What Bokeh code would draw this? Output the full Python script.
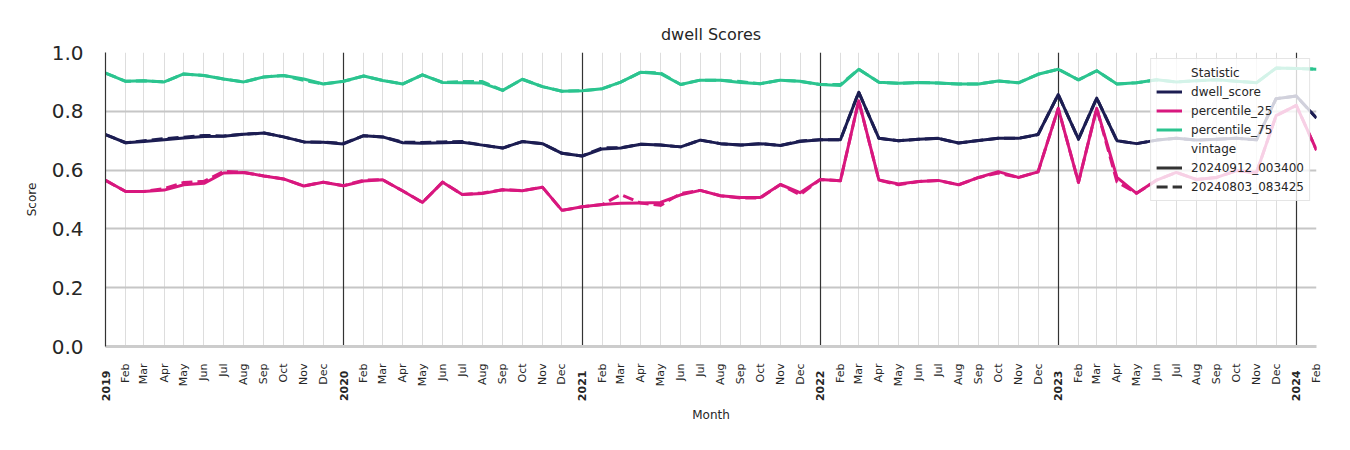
from math import pi
import pandas as pd
from bokeh.plotting import figure
from bokeh.models import (FixedTicker, Range1d, Legend, LegendItem, Grid, LinearAxis,
                          NumeralTickFormatter, ColumnDataSource)
from bokeh.embed import file_html
from bokeh.resources import INLINE

# ---------------- data ----------------
months = pd.date_range("2019-01-01", "2024-02-01", freq="MS")

dwell_new = [
    0.721, 0.693, 0.697, 0.703, 0.709, 0.714, 0.715, 0.722, 0.726, 0.713, 0.696, 0.695,
    0.689, 0.717, 0.713, 0.693, 0.691, 0.693, 0.695, 0.685, 0.675, 0.697, 0.690, 0.657,
    0.648, 0.672, 0.675, 0.688, 0.685, 0.679, 0.702, 0.690, 0.685, 0.690, 0.684, 0.697,
    0.703, 0.703, 0.865, 0.708, 0.700, 0.705, 0.708, 0.692, 0.701, 0.708, 0.708, 0.721,
    0.857, 0.705, 0.845, 0.700, 0.690, 0.702, 0.708, 0.702, 0.705, 0.708, 0.703, 0.843,
    0.852, 0.777,
]
dwell_old = [
    0.721, 0.693, 0.700, 0.707, 0.712, 0.718, 0.716, 0.722, 0.726, 0.713, 0.696, 0.695,
    0.691, 0.717, 0.713, 0.695, 0.694, 0.696, 0.697, 0.685, 0.675, 0.697, 0.690, 0.657,
    0.648, 0.676, 0.676, 0.688, 0.685, 0.679, 0.702, 0.690, 0.685, 0.690, 0.684, 0.699,
    0.703, 0.703, 0.865, 0.708, 0.700, 0.705, 0.708, 0.692, 0.701, 0.708, 0.708, 0.721,
    0.857, 0.705, 0.845, 0.700, 0.690, 0.702, 0.708, 0.702, 0.705, 0.708, 0.703, 0.843,
    0.852, 0.777,
]
p25_new = [
    0.565, 0.527, 0.527, 0.532, 0.550, 0.555, 0.590, 0.592, 0.580, 0.570, 0.546, 0.559,
    0.547, 0.563, 0.567, 0.529, 0.490, 0.559, 0.517, 0.520, 0.533, 0.530, 0.542, 0.463,
    0.475, 0.483, 0.487, 0.488, 0.490, 0.516, 0.531, 0.513, 0.507, 0.507, 0.551, 0.523,
    0.568, 0.564, 0.836, 0.566, 0.553, 0.561, 0.565, 0.550, 0.575, 0.595, 0.575, 0.594,
    0.810, 0.558, 0.810, 0.575, 0.521, 0.566, 0.592, 0.568, 0.575, 0.598, 0.592, 0.785,
    0.820, 0.668,
]
p25_old = [
    0.565, 0.527, 0.527, 0.537, 0.558, 0.562, 0.596, 0.592, 0.580, 0.570, 0.546, 0.559,
    0.547, 0.566, 0.567, 0.529, 0.490, 0.559, 0.517, 0.522, 0.533, 0.530, 0.542, 0.463,
    0.475, 0.483, 0.517, 0.488, 0.480, 0.520, 0.531, 0.513, 0.505, 0.505, 0.551, 0.516,
    0.568, 0.564, 0.836, 0.566, 0.550, 0.561, 0.565, 0.550, 0.575, 0.590, 0.575, 0.594,
    0.810, 0.558, 0.810, 0.560, 0.521, 0.566, 0.592, 0.568, 0.575, 0.598, 0.592, 0.785,
    0.820, 0.668,
]
p75_new = [
    0.930, 0.902, 0.904, 0.900, 0.927, 0.922, 0.910, 0.900, 0.917, 0.922, 0.910, 0.893,
    0.902, 0.920, 0.905, 0.893, 0.924, 0.898, 0.897, 0.896, 0.871, 0.909, 0.884, 0.868,
    0.870, 0.877, 0.899, 0.933, 0.928, 0.891, 0.906, 0.906, 0.898, 0.894, 0.906, 0.902,
    0.891, 0.888, 0.943, 0.899, 0.895, 0.898, 0.896, 0.893, 0.893, 0.903, 0.897, 0.926,
    0.943, 0.907, 0.938, 0.893, 0.897, 0.907, 0.900, 0.904, 0.907, 0.902, 0.897, 0.947,
    0.946, 0.943,
]
p75_old = [
    0.930, 0.902, 0.904, 0.900, 0.927, 0.922, 0.910, 0.900, 0.917, 0.922, 0.905, 0.893,
    0.902, 0.920, 0.905, 0.893, 0.924, 0.898, 0.901, 0.901, 0.871, 0.909, 0.884, 0.868,
    0.870, 0.877, 0.899, 0.933, 0.931, 0.891, 0.906, 0.906, 0.901, 0.894, 0.906, 0.902,
    0.891, 0.891, 0.943, 0.899, 0.895, 0.898, 0.896, 0.893, 0.893, 0.903, 0.897, 0.926,
    0.943, 0.907, 0.938, 0.893, 0.897, 0.907, 0.900, 0.904, 0.907, 0.902, 0.897, 0.947,
    0.946, 0.943,
]

stat_names = ["dwell_score", "percentile_25", "percentile_75"]
vintages = ["20240912_003400", "20240803_083425"]
y_ticks = [0.0, 0.2, 0.4, 0.6, 0.8, 1.0]

# ---------------- style ----------------
FONT = "DejaVu Sans"
TXT = "#262626"
colors = {"dwell_score": "#1c1d52", "percentile_25": "#d8177e", "percentile_75": "#2bc48f"}
dashes = {vintages[0]: "solid", vintages[1]: "11 5"}

origin = months[0]
xd = [(m - origin).days for m in months]
month_ticks = xd
year_ticks = [d for d, m in zip(xd, months) if m.month == 1]
year_text = [str(m.year) for m in months if m.month == 1]

p = figure(frame_width=1211, frame_height=294, width=1346, height=438,
           min_border_left=105, min_border_right=30, min_border_top=52, min_border_bottom=92,
           output_backend="svg", toolbar_location=None, tools="",
           x_range=Range1d(xd[0], xd[-1]), y_range=Range1d(0, 1.0))
p.background_fill_color = "white"
p.border_fill_color = "white"
p.outline_line_color = None

p.title.text = "dwell Scores"
p.title.align = "center"
p.title.text_font = FONT
p.title.text_font_size = "16px"
p.title.text_font_style = "normal"
p.title.text_color = TXT
p.title.standoff = 17

# x axis: months (normal weight)
xa = p.xaxis[0]
xa.ticker = FixedTicker(ticks=month_ticks)
xa.major_label_overrides = {d: ("" if m.month == 1 else m.strftime("%b")) for d, m in zip(xd, months)}
xa.major_label_orientation = pi / 2
xa.major_label_text_font = FONT
xa.major_label_text_font_size = "11px"
xa.major_label_text_color = TXT
xa.major_label_standoff = 17
xa.major_tick_out = 0
xa.major_tick_in = 0
xa.minor_tick_out = 0
xa.minor_tick_in = 0
xa.axis_line_color = "#cccccc"
xa.axis_line_width = 3

# second x axis: years (bold), pulled up under the month axis
ya2 = LinearAxis(ticker=FixedTicker(ticks=year_ticks),
                 major_label_overrides={d: t for d, t in zip(year_ticks, year_text)},
                 major_label_orientation=pi / 2,
                 major_label_text_font=FONT, major_label_text_font_size="11px",
                 major_label_text_font_style="bold", major_label_text_color=TXT,
                 major_label_standoff=-19,
                 major_tick_out=0, major_tick_in=0, minor_tick_out=0, minor_tick_in=0,
                 axis_line_color=None,
                 axis_label="Month", axis_label_text_font=FONT,
                 axis_label_text_font_size="12px", axis_label_text_font_style="normal",
                 axis_label_text_color=TXT, axis_label_standoff=4)
p.add_layout(ya2, "below")

# y axis
ya = p.yaxis[0]
ya.ticker = FixedTicker(ticks=y_ticks)
ya.formatter = NumeralTickFormatter(format="0.0")
ya.major_label_text_font = FONT
ya.major_label_text_font_size = "20px"
ya.major_label_text_color = TXT
ya.major_label_standoff = 22
ya.major_tick_out = 0
ya.major_tick_in = 0
ya.minor_tick_out = 0
ya.minor_tick_in = 0
ya.axis_line_color = "#333333"
ya.axis_line_width = 1.2
ya.axis_label = "Score"
ya.axis_label_text_font = FONT
ya.axis_label_text_font_size = "12px"
ya.axis_label_text_font_style = "normal"
ya.axis_label_text_color = TXT
ya.axis_label_standoff = 10

# grids
p.xgrid.ticker = FixedTicker(ticks=month_ticks)
p.xgrid.grid_line_color = "#dddddd"
p.xgrid.grid_line_width = 1
p.ygrid.ticker = FixedTicker(ticks=y_ticks)
p.ygrid.grid_line_color = "#c6c6c6"
p.ygrid.grid_line_width = 2
p.add_layout(Grid(dimension=0, ticker=FixedTicker(ticks=year_ticks),
                  grid_line_color="#333333", grid_line_width=1.2))

# lines
series = {
    ("dwell_score", vintages[0]): dwell_new,
    ("dwell_score", vintages[1]): dwell_old,
    ("percentile_25", vintages[0]): p25_new,
    ("percentile_25", vintages[1]): p25_old,
    ("percentile_75", vintages[0]): p75_new,
    ("percentile_75", vintages[1]): p75_old,
}
stat_renderers = {}
for (stat, vint), vals in series.items():
    src = ColumnDataSource(dict(x=xd, y=vals))
    r = p.line("x", "y", source=src, line_color=colors[stat], line_width=3,
               line_dash=dashes[vint], line_join="round")
    if vint == vintages[0]:
        stat_renderers[stat] = r

# legend-only renderers (placed outside the visible y range)
def dummy():
    return ColumnDataSource(dict(x=[xd[0], xd[1]], y=[-5, -5]))

hdr1 = p.line("x", "y", source=dummy(), line_alpha=0)
hdr2 = p.line("x", "y", source=dummy(), line_alpha=0)
v_solid = p.line("x", "y", source=dummy(), line_color="#333333", line_width=3)
v_dash = p.line("x", "y", source=dummy(), line_color="#333333", line_width=3, line_dash="11 5")

items = [LegendItem(label="Statistic", renderers=[hdr1])]
items += [LegendItem(label=s, renderers=[stat_renderers[s]]) for s in stat_names]
items += [LegendItem(label="vintage", renderers=[hdr2]),
          LegendItem(label=vintages[0], renderers=[v_solid]),
          LegendItem(label=vintages[1], renderers=[v_dash])]
legend = Legend(items=items, location="top_right", margin=6, padding=5, spacing=2,
                label_height=17, glyph_height=17, glyph_width=26, label_standoff=9,
                label_text_font=FONT, label_text_font_size="12px", label_text_color=TXT,
                border_line_color="#cccccc", border_line_width=1.5,
                background_fill_color="white", background_fill_alpha=0.8)
p.add_layout(legend)

open("out.html", "w").write(file_html(p, INLINE))
